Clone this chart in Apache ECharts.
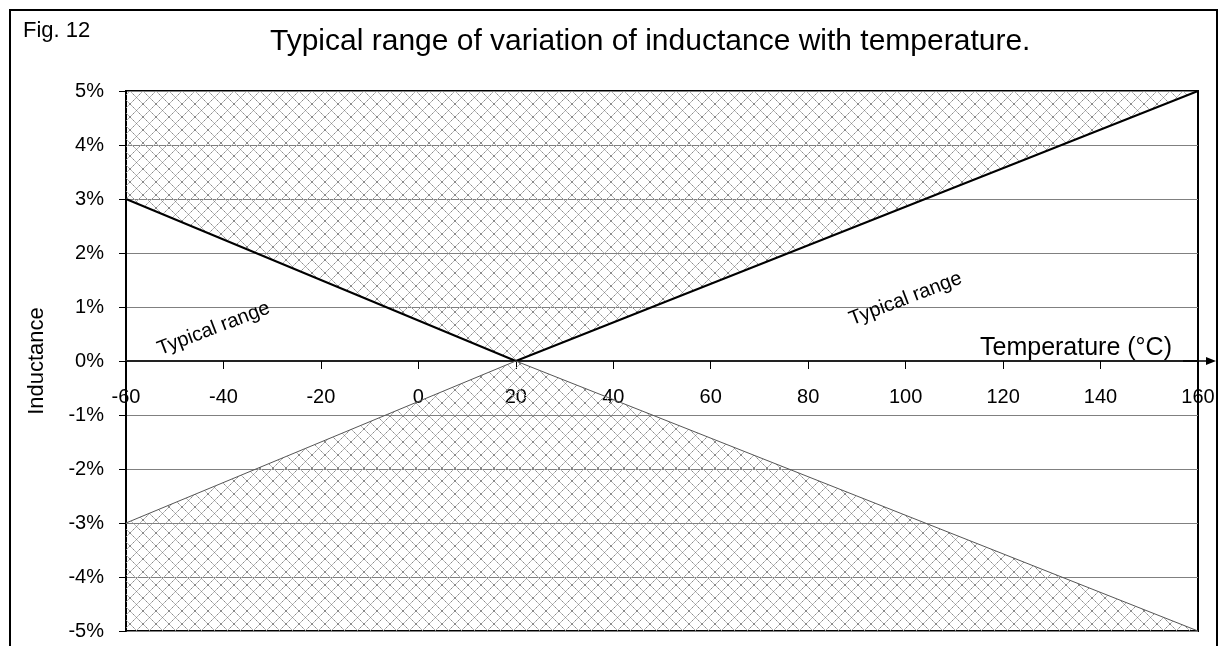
<!DOCTYPE html>
<html>
<head>
<meta charset="utf-8">
<script src="https://cdn.jsdelivr.net/npm/echarts@6/dist/echarts.min.js"></script>
<style>
  html, body { margin: 0; padding: 0; background: #fff; }
  #chart { width: 1223px; height: 646px; }
</style>
</head>
<body>
<div id="chart"></div>
<script>
// ---- data ----
const titleText = 'Typical range of variation of inductance with temperature.';
const figText = 'Fig. 12';
const xName = 'Temperature (°C)';
const yName = 'Inductance';
const upperTemps = [-60, 20, 160];
const upperValues = [3, 0, 5];
const lowerTemps = [-60, 20, 160];
const lowerValues = [-3, 0, -5];
const noteTexts = ['Typical range', 'Typical range'];
const noteTemps = [-42, 100];
const noteValues = [0.6, 1.15];

const FONT = '"Liberation Sans", Arial, sans-serif';
const GRID_TOP = 91, GRID_BOTTOM = 15, CH = 646;
const yMin = -5, yMax = 5;

// cross-hatch pattern
function makePattern() {
  const c = document.createElement('canvas');
  const n = 13;
  c.width = n; c.height = n;
  const g = c.getContext('2d');
  for (let i = 0; i < n; i++) {
    g.fillStyle = (i % 3 === 0) ? '#8a8a8a' : '#b8b8b8';
    g.fillRect(i, i, 1, 1);
    g.fillRect(n - 1 - i, i, 1, 1);
  }
  return c;
}
const hatch = { image: makePattern(), repeat: 'repeat' };

const chart = echarts.init(document.getElementById('chart'), null, { renderer: 'canvas' });

// put the x axis at value 0 of the y axis (offset from grid bottom)
const gridH = CH - GRID_TOP - GRID_BOTTOM;
const zeroOffset = -gridH * (0 - yMin) / (yMax - yMin);

const option = {
  backgroundColor: '#fff',
  animation: false,
  title: [
    { text: titleText, left: 270, top: 27, padding: 0,
      textStyle: { fontFamily: FONT, fontSize: 30, fontWeight: 'normal', color: '#000' } },
    { text: figText, left: 23, top: 20, padding: 0,
      textStyle: { fontFamily: FONT, fontSize: 22, fontWeight: 'normal', color: '#000' } }
  ],
  grid: { left: 126, right: 25, top: GRID_TOP, bottom: GRID_BOTTOM, show: true, borderColor: '#000', borderWidth: 2,
          backgroundColor: 'transparent', containLabel: false, outerBoundsMode: 'none' },
  xAxis: {
    type: 'value', min: -60, max: 160, interval: 20,
    position: 'bottom', offset: zeroOffset,
    name: xName, nameLocation: 'end', nameGap: -26,
    nameTextStyle: { fontFamily: FONT, fontSize: 25, color: '#000', align: 'right', verticalAlign: 'bottom', lineHeight: 25 },
    axisLine: { onZero: false, lineStyle: { color: '#222', width: 2 } },
    axisTick: { show: true, length: 8, lineStyle: { color: '#000', width: 1 } },
    axisLabel: { fontFamily: FONT, fontSize: 20, color: '#000', margin: 26, lineHeight: 20, showMinLabel: true, showMaxLabel: true },
    splitLine: { show: false }
  },
  yAxis: {
    type: 'value', min: yMin, max: yMax, interval: 1,
    name: yName, nameLocation: 'middle', nameGap: 78,
    nameTextStyle: { fontFamily: FONT, fontSize: 22, color: '#000' },
    axisLine: { show: true, onZero: false, lineStyle: { color: '#000', width: 2 } },
    axisTick: { show: true, length: 7, lineStyle: { color: '#000', width: 1 } },
    axisLabel: { fontFamily: FONT, fontSize: 20, color: '#000', margin: 22, formatter: '{value}%' },
    splitLine: { show: true, lineStyle: { color: '#808080', width: 1 } }
  },
  series: [
    {
      name: 'upper', type: 'line', symbol: 'none',
      data: upperTemps.map((t, i) => [t, upperValues[i]]),
      lineStyle: { color: '#000', width: 2 },
      areaStyle: { origin: 'end', color: hatch, opacity: 1 },
      z: 3
    },
    {
      name: 'lower', type: 'line', symbol: 'none',
      data: lowerTemps.map((t, i) => [t, lowerValues[i]]),
      lineStyle: { color: '#555', width: 1 },
      areaStyle: { origin: 'start', color: hatch, opacity: 1 },
      z: 3
    }
  ]
};
chart.setOption(option);

// annotations positioned through the chart's own scales
const notes = noteTexts.map((txt, i) => {
  const p = chart.convertToPixel({ gridIndex: 0 }, [noteTemps[i], noteValues[i]]);
  return {
    type: 'text', x: p[0], y: p[1], rotation: 21 * Math.PI / 180, z: 10,
    style: { text: txt, fontFamily: FONT, fontSize: 20, fill: '#000', align: 'center', verticalAlign: 'middle' }
  };
});
const axisEnd = chart.convertToPixel({ gridIndex: 0 }, [160, 0]);
chart.setOption({
  graphic: [
    { type: 'rect', shape: { x: 10, y: 10, width: 1207, height: 660 }, style: { fill: 'none', stroke: '#000', lineWidth: 2 }, z: 10 },
    { type: 'line', shape: { x1: axisEnd[0] - 15, y1: axisEnd[1], x2: axisEnd[0] + 12, y2: axisEnd[1] }, style: { stroke: '#000', lineWidth: 1.5 }, z: 10 },
    { type: 'polygon', shape: { points: [[axisEnd[0] + 8, axisEnd[1] - 4], [axisEnd[0] + 18, axisEnd[1]], [axisEnd[0] + 8, axisEnd[1] + 4]] }, style: { fill: '#000' }, z: 10 }
  ].concat(notes)
});
</script>
</body>
</html>
